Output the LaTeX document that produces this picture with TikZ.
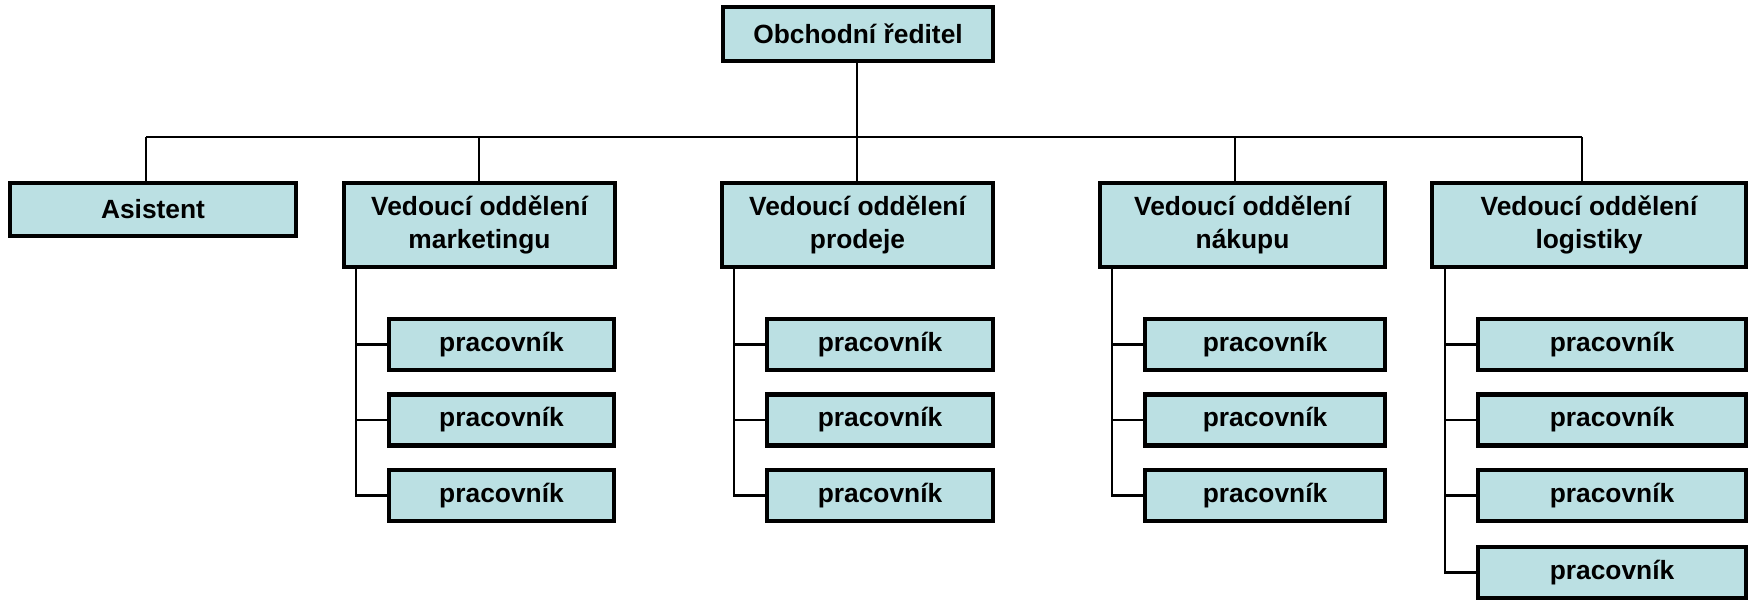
\documentclass[tikz,border=0pt]{standalone}
\usepackage{fontspec}
\setmainfont{Liberation Sans}
\definecolor{boxfill}{RGB}{187,224,227}
\tikzset{
    box/.style={draw, line width=1.15pt, fill=boxfill, align=center, inner sep=0pt,
        font=\bfseries\fontsize{7.5}{9.2}\selectfont},
    spoj/.style={line width=0.65pt}
}
\begin{document}
\begin{tikzpicture}
        \useasboundingbox (0,0) rectangle (17.56,6.01);

        %%%%%%%%% Vedeni %%%%%%%%%
        \node[box, minimum width=2.70cm, minimum height=0.54cm] (reditel) at (8.58,5.67) {Obchodní ředitel};
        \node[box, minimum width=2.86cm, minimum height=0.53cm] (asistent) at (1.53,3.915) {Asistent};

        %%%%%%%%% Oddeleni %%%%%%%%%
        \node[box, minimum width=2.71cm, minimum height=0.84cm] (marketing) at (4.795,3.76) {Vedoucí oddělení\\marketingu};
        \node[box, minimum width=2.71cm, minimum height=0.84cm] (prodej) at (8.575,3.76) {Vedoucí oddělení\\prodeje};
        \node[box, minimum width=2.85cm, minimum height=0.84cm] (nakup) at (12.425,3.76) {Vedoucí oddělení\\nákupu};
        \node[box, minimum width=3.14cm, minimum height=0.84cm] (logistika) at (15.89,3.76) {Vedoucí oddělení\\logistiky};

        %%%%%%%%% Pracovnici %%%%%%%%%
        \foreach \i/\y in {1/2.565,2/1.81,3/1.055} {
            \node[box, minimum width=2.25cm, minimum height=0.51cm] (m\i) at (5.015,\y) {pracovník};
            \node[box, minimum width=2.26cm, minimum height=0.51cm] (p\i) at (8.80,\y) {pracovník};
            \node[box, minimum width=2.40cm, minimum height=0.51cm] (n\i) at (12.65,\y) {pracovník};
        }
        \foreach \i/\y in {1/2.565,2/1.81,3/1.055,4/0.285}
            \node[box, minimum width=2.68cm, minimum height=0.51cm] (l\i) at (16.12,\y) {pracovník};

        %%%%%%%%% Sbernice %%%%%%%%%
        \coordinate (t1) at (1.46,4.64);
        \coordinate (t2) at (4.79,4.64);
        \coordinate (t3) at (8.57,4.64);
        \coordinate (t4) at (12.35,4.64);
        \coordinate (t5) at (15.82,4.64);
        \draw[spoj] (t1) -- (t5);
        \draw[spoj] (reditel.south -| t3) -- (t3);
        \draw[spoj] (t1) -- (t1 |- asistent.north);
        \draw[spoj] (t2) -- (t2 |- marketing.north);
        \draw[spoj] (t3) -- (t3 |- prodej.north);
        \draw[spoj] (t4) -- (t4 |- nakup.north);
        \draw[spoj] (t5) -- (t5 |- logistika.north);

        %%%%%%%%% Vetve %%%%%%%%%
        \foreach \d/\w in {marketing/m,prodej/p,nakup/n} {
            \coordinate (\w0) at ([xshift=0.14cm]\d.south west);
            \draw[spoj] (\w0) |- (\w3.west);
            \foreach \i in {1,2}
                \draw[spoj] (\w\i.west) -- (\w\i.west -| \w0);
        }
        \coordinate (l0) at ([xshift=0.15cm]logistika.south west);
        \draw[spoj] (l0) |- (l4.west);
        \foreach \i in {1,2,3}
            \draw[spoj] (l\i.west) -- (l\i.west -| l0);
    \end{tikzpicture}
\end{document}
